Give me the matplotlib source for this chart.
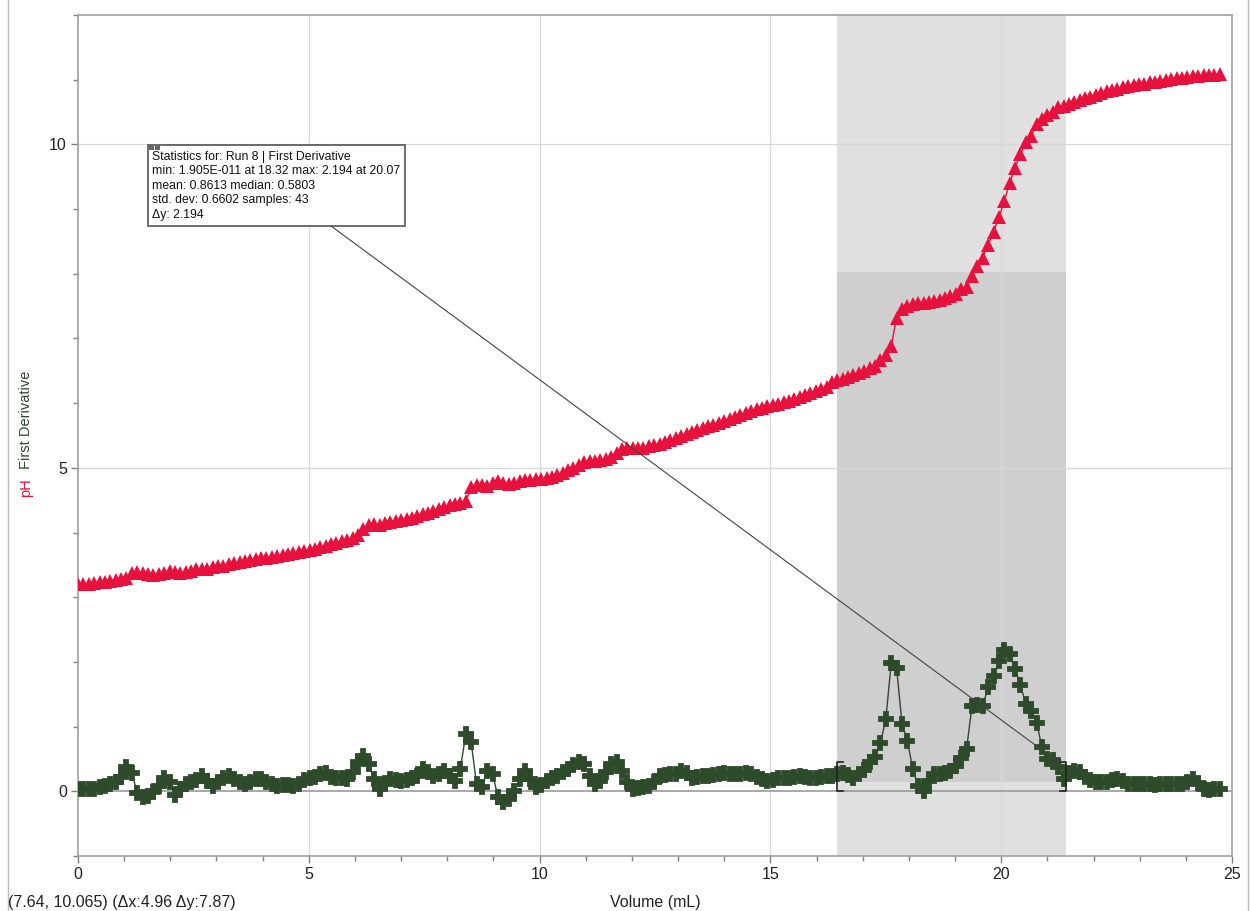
import matplotlib
matplotlib.use("Agg")
import matplotlib.pyplot as plt
from matplotlib.patches import Rectangle
from matplotlib.lines import Line2D

plt.rcParams['font.family'] = ['Liberation Sans', 'DejaVu Sans']

# ---- data ----
volume_step_mL = 0.11667          # drop-counter increment
n_samples = 213
volume = [round(i * volume_step_mL, 3) for i in range(n_samples)]

ph = [
    3.20, 3.21, 3.21, 3.22, 3.23, 3.24, 3.25, 3.27, 3.28, 3.30,
    3.38, 3.39, 3.37, 3.36, 3.35, 3.36, 3.38, 3.40, 3.39, 3.38,
    3.39, 3.41, 3.43, 3.44, 3.44, 3.46, 3.48, 3.49, 3.51, 3.53,
    3.55, 3.56, 3.57, 3.59, 3.60, 3.61, 3.62, 3.64, 3.65, 3.67,
    3.68, 3.70, 3.71, 3.73, 3.75, 3.77, 3.79, 3.82, 3.84, 3.87,
    3.89, 3.92, 3.96, 4.05, 4.12, 4.13, 4.12, 4.14, 4.16, 4.18,
    4.20, 4.21, 4.23, 4.25, 4.28, 4.30, 4.33, 4.36, 4.39, 4.42,
    4.44, 4.46, 4.48, 4.70, 4.73, 4.74, 4.72, 4.76, 4.80, 4.77,
    4.75, 4.76, 4.79, 4.81, 4.81, 4.82, 4.82, 4.84, 4.86, 4.89,
    4.92, 4.96, 5.00, 5.05, 5.09, 5.10, 5.11, 5.12, 5.14, 5.17,
    5.23, 5.29, 5.31, 5.30, 5.30, 5.31, 5.33, 5.35, 5.37, 5.40,
    5.43, 5.46, 5.49, 5.52, 5.55, 5.58, 5.61, 5.64, 5.67, 5.70,
    5.73, 5.76, 5.79, 5.82, 5.85, 5.88, 5.91, 5.93, 5.95, 5.97,
    5.99, 6.02, 6.04, 6.07, 6.10, 6.13, 6.16, 6.19, 6.22, 6.25,
    6.33, 6.36, 6.38, 6.41, 6.44, 6.47, 6.50, 6.54, 6.58, 6.66,
    6.75, 6.88, 7.32, 7.45, 7.50, 7.53, 7.55, 7.55, 7.56, 7.58,
    7.60, 7.62, 7.65, 7.69, 7.76, 7.80, 7.96, 8.12, 8.25, 8.45,
    8.65, 8.87, 9.12, 9.41, 9.64, 9.85, 10.03, 10.13, 10.32, 10.40,
    10.45, 10.50, 10.58, 10.60, 10.62, 10.65, 10.68, 10.71, 10.74, 10.77,
    10.80, 10.82, 10.84, 10.86, 10.88, 10.90, 10.92, 10.93, 10.94, 10.96,
    10.97, 10.98, 11.00, 11.01, 11.02, 11.03, 11.04, 11.05, 11.06, 11.07,
    11.08, 11.08, 11.09,
]

first_derivative = [
    0.03, 0.03, 0.04, 0.04, 0.06, 0.08, 0.11, 0.15, 0.22, 0.37,
    0.29, -0.03, -0.09, -0.07, -0.01, 0.08, 0.21, 0.14, -0.06, 0.04,
    0.11, 0.15, 0.18, 0.24, 0.16, 0.08, 0.14, 0.20, 0.24, 0.19,
    0.15, 0.11, 0.15, 0.19, 0.19, 0.15, 0.12, 0.08, 0.10, 0.09,
    0.08, 0.12, 0.18, 0.20, 0.22, 0.27, 0.29, 0.22, 0.20, 0.21,
    0.19, 0.30, 0.45, 0.55, 0.42, 0.19, 0.03, 0.13, 0.19, 0.17,
    0.16, 0.17, 0.20, 0.24, 0.34, 0.30, 0.24, 0.27, 0.31, 0.24,
    0.16, 0.35, 0.88, 0.76, 0.11, 0.06, 0.31, 0.26, -0.09, -0.17,
    -0.12, 0.00, 0.19, 0.31, 0.19, 0.06, 0.10, 0.16, 0.20, 0.24,
    0.30, 0.34, 0.40, 0.45, 0.42, 0.24, 0.11, 0.16, 0.30, 0.42,
    0.45, 0.31, 0.14, 0.03, 0.05, 0.07, 0.08, 0.15, 0.24, 0.25,
    0.26, 0.27, 0.31, 0.28, 0.21, 0.22, 0.24, 0.24, 0.25, 0.27,
    0.29, 0.27, 0.26, 0.27, 0.29, 0.27, 0.22, 0.19, 0.16, 0.18,
    0.20, 0.21, 0.20, 0.22, 0.24, 0.22, 0.20, 0.21, 0.22, 0.23,
    0.24, 0.26, 0.29, 0.25, 0.21, 0.26, 0.33, 0.45, 0.53, 0.75,
    1.11, 1.98, 1.91, 1.04, 0.78, 0.35, 0.08, 0.00, 0.16, 0.26,
    0.26, 0.29, 0.31, 0.39, 0.52, 0.66, 1.32, 1.34, 1.32, 1.61,
    1.78, 2.01, 2.19, 2.12, 1.89, 1.64, 1.35, 1.24, 1.06, 0.68,
    0.50, 0.49, 0.37, 0.19, 0.29, 0.31, 0.30, 0.22, 0.17, 0.14,
    0.14, 0.15, 0.18, 0.19, 0.16, 0.12, 0.11, 0.11, 0.12, 0.11,
    0.10, 0.11, 0.12, 0.11, 0.11, 0.12, 0.15, 0.19, 0.13, 0.04,
    0.02, 0.03, 0.03,
]

x_ticks = [0, 5, 10, 15, 20, 25]
y_ticks = [0, 5, 10]

# selected region and statistics rectangle
sel_x = (16.45, 21.41)
sel_y = (0.15, 8.02)
stats_lines = [
    "Statistics for: Run 8 | First Derivative",
    "min: 1.905E-011 at 18.32 max: 2.194 at 20.07",
    "mean: 0.8613 median: 0.5803",
    "std. dev: 0.6602 samples: 43",
    "\u0394y: 2.194",
]
status_text = "(7.64, 10.065) (\u0394x:4.96 \u0394y:7.87)"
leader_start = (5.46, 8.75)
leader_end = (21.3, 0.42)

PH_COLOR = "#E8103C"
DER_COLOR = "#2D4A2B"

# ---- figure ----
W, H = 1251, 911
fig = plt.figure(figsize=(W / 100, H / 100), dpi=100)
ax = fig.add_axes([78 / W, (H - 856) / H, (1232 - 78) / W, (856 - 15) / H])
ax.set_xlim(0, 25)
ax.set_ylim(-1, 12)

# shaded selection
ax.axvspan(sel_x[0], sel_x[1], color="#E0E0E0", zorder=0.2, lw=0)
ax.add_patch(Rectangle((sel_x[0], sel_y[0]), sel_x[1] - sel_x[0], sel_y[1] - sel_y[0],
                       facecolor="#CFCFCF", edgecolor="none", zorder=0.3))

# grid
for xv in x_ticks[1:-1]:
    ax.axvline(xv, color="#D8D8D8", lw=0.9, zorder=0.5)
for yv in y_ticks[1:]:
    ax.axhline(yv, color="#D8D8D8", lw=0.9, zorder=0.5)
ax.axhline(0, color="#9A9A9A", lw=1.2, zorder=0.6)

# series
ax.plot(volume, ph, color=PH_COLOR, lw=1.0, marker="^", ms=10.5,
        markeredgewidth=0, zorder=3)
ax.plot(volume, first_derivative, color=DER_COLOR, lw=1.0, marker="P", ms=10.5,
        markeredgewidth=1.3, markeredgecolor=DER_COLOR, zorder=3)

# selection brackets
bh, bw = 0.45, 0.13
ax.plot([sel_x[0] + bw, sel_x[0], sel_x[0], sel_x[0] + bw], [bh, bh, 0, 0],
        color="#222222", lw=1.2, zorder=4)
ax.plot([sel_x[1] - bw, sel_x[1], sel_x[1], sel_x[1] - bw], [bh, bh, 0, 0],
        color="#222222", lw=1.2, zorder=4)

# leader line from stats box
ax.plot([leader_start[0], leader_end[0]], [leader_start[1], leader_end[1]],
        color="#444444", lw=0.8, zorder=4)

# axes styling
for s in ax.spines.values():
    s.set_color("#A0A0A0")
    s.set_linewidth(1.2)
ax.set_xticks(x_ticks)
ax.set_yticks(y_ticks)
ax.set_xticks(range(0, 26), minor=True)
ax.set_yticks(range(-1, 13), minor=True)
ax.tick_params(which="major", direction="out", length=5, width=1, color="#808080",
               labelsize=11.5, pad=3, labelcolor="#222222")
ax.tick_params(which="minor", direction="out", length=3.5, width=1, color="#808080")
ax.tick_params(axis="x", which="both", top=False)
ax.tick_params(axis="y", which="both", right=False)

# axis labels
fig.text(655 / W, 1 - 902 / H, "Volume (mL)", ha="center", va="center",
         fontsize=11.5, color="#222222")
fig.text(26 / W, 1 - 420 / H, "First Derivative", rotation=90, ha="center",
         va="center", fontsize=10.5, color=DER_COLOR)
fig.text(26 / W, 1 - 488 / H, "pH", rotation=90, ha="center", va="center",
         fontsize=10.5, color=PH_COLOR)
fig.text(8 / W, 1 - 902 / H, status_text, ha="left", va="center",
         fontsize=11.5, color="#222222")

# statistics box
bx0, by0, bx1, by1 = 148, 145, 405, 226
fig.add_artist(Rectangle((bx0 / W, 1 - by1 / H), (bx1 - bx0) / W, (by1 - by0) / H,
                         transform=fig.transFigure, facecolor="white",
                         edgecolor="#555555", lw=1.2, zorder=10))
for k in range(2):
    fig.add_artist(Rectangle(((bx0 + 1 + 6 * k) / W, 1 - (by0 + 5) / H), 5 / W, 5 / H,
                             transform=fig.transFigure, facecolor="#666666",
                             edgecolor="none", zorder=11))
line_y = [157, 171, 186, 200, 215]
for txt, yy in zip(stats_lines, line_y):
    fig.text(152 / W, 1 - yy / H, txt, ha="left", va="center", fontsize=8.8,
             color="#111111", zorder=12)

# outer frame lines
fig.add_artist(Line2D([8 / W, 8 / W], [0, 1], transform=fig.transFigure,
                      color="#BBBBBB", lw=1.0))
fig.add_artist(Line2D([1248 / W, 1248 / W], [0, 1], transform=fig.transFigure,
                      color="#BBBBBB", lw=1.0))

fig.savefig("out.png", dpi=100)
